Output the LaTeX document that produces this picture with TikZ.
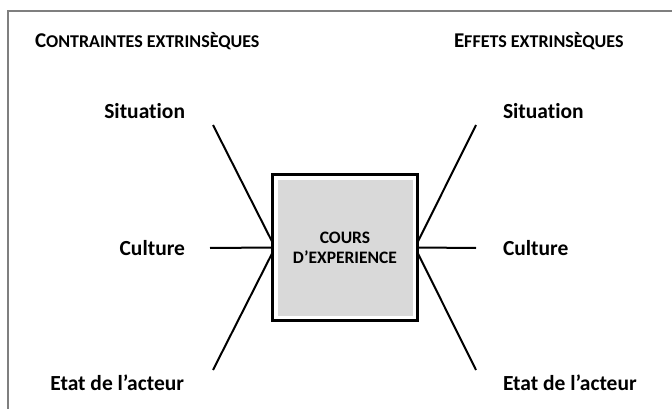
\documentclass[tikz,border=0pt]{standalone}
\usepackage{fontspec}
\setmainfont{Carlito}[Ligatures=NoCommon]
\definecolor{fond}{HTML}{D9D9D9}
\definecolor{cadre}{HTML}{7F7F7F}
\newcommand{\petitcap}[1]{{\fontsize{18}{18}\selectfont #1}}
\begin{document}
\begin{tikzpicture}[x=1pt,y=-1pt,inner sep=0pt,outer sep=0pt,line width=2pt,
etiquette/.style={font=\fontsize{21.5}{21.5}\selectfont\bfseries},
titre/.style={font=\fontsize{21}{21}\selectfont\bfseries,anchor=base west},
coursbox/.style={draw,rectangle,line width=3.5pt,minimum width=145pt,minimum height=146pt,
  align=center,font=\fontsize{17.5}{20}\selectfont\bfseries,
  path picture={\fill[fond] ([shift={(5pt,5pt)}]path picture bounding box.south west) rectangle ([shift={(-5pt,-5pt)}]path picture bounding box.north east);}}]
\useasboundingbox (0,0) rectangle (672,409);
\draw[cadre,line width=1.5pt] (8,409) -- (8,11) -- (672,11);
\draw (35,48) node[titre] (titreC) {C\petitcap{ONTRAINTES EXTRINSÈQUES}};
\draw (454,48) node[titre] (titreE) {E\petitcap{FFETS EXTRINSÈQUES}};
\draw (345,247.5) node[coursbox] (cours) {COURS\\D’EXPERIENCE};
% contraintes
\draw (185,119) node[etiquette,anchor=base east] (sitG) {Situation};
\draw (185,255) node[etiquette,anchor=base east] (culG) {Culture};
\draw (184,390) node[etiquette,anchor=base east] (etaG) {Etat de l’acteur};
% effets
\draw (503,119) node[etiquette,anchor=base west] (sitD) {Situation};
\draw (503,255) node[etiquette,anchor=base west] (culD) {Culture};
\draw (503,390) node[etiquette,anchor=base west] (etaD) {Etat de l’acteur};
\coordinate (sitGbout) at (213,125);
\coordinate (culGbout) at (210,248);
\coordinate (etaGbout) at (213,370);
\coordinate (sitDbout) at (476,125);
\coordinate (culDbout) at (476,248);
\coordinate (etaDbout) at (476,370);
\draw (sitGbout) -- (cours.176);
\draw (culGbout) -- (cours.west);
\draw (etaGbout) -- (cours.184);
\draw (cours.4) -- (sitDbout);
\draw (cours.east) -- (culDbout);
\draw (cours.-4) -- (etaDbout);
\end{tikzpicture}
\end{document}
